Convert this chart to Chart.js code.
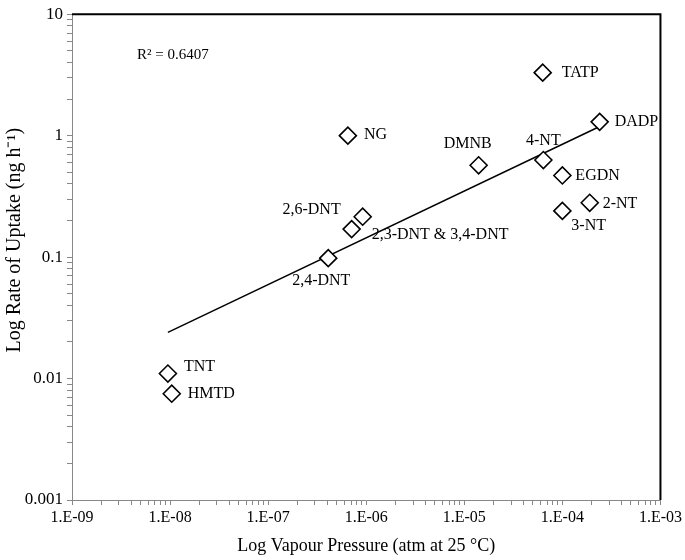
<!DOCTYPE html>
<html>
<head>
<meta charset="utf-8">
<script src="https://cdn.jsdelivr.net/npm/chart.js@4.4.0/dist/chart.umd.min.js"></script>
<style>
  html, body { margin: 0; padding: 0; background: #fff; }
  #wrap { width: 685px; height: 560px; }
</style>
</head>
<body>
<div id="wrap"><canvas id="chart" width="685" height="560"></canvas></div>
<script>
// compounds and values
const compounds = ['TNT', 'HMTD', 'NG', 'DMNB', 'TATP', 'DADP', '4-NT', 'EGDN', '2-NT', '3-NT', '2,6-DNT', '2,3-DNT & 3,4-DNT', '2,4-DNT'];
const vapourPressure = [9.5e-9, 1.04e-8, 6.5e-7, 1.4e-5, 6.3e-5, 2.4e-4, 6.4e-5, 1.0e-4, 1.9e-4, 1.0e-4, 9.2e-7, 7.1e-7, 4.1e-7];
const uptakeRate = [0.011, 0.0075, 1.0, 0.57, 3.3, 1.3, 0.63, 0.47, 0.28, 0.24, 0.215, 0.17, 0.098];

// trend line end points
const trendX = [9.5e-9, 2.4e-4];
const trendY = [0.024, 1.19];

const xTickValues = [1e-9, 1e-8, 1e-7, 1e-6, 1e-5, 1e-4, 1e-3];
const xTickLabels = ['1.E-09', '1.E-08', '1.E-07', '1.E-06', '1.E-05', '1.E-04', '1.E-03'];
const yTickValues = [0.001, 0.01, 0.1, 1, 10];
const yTickLabels = ['0.001', '0.01', '0.1', '1', '10'];

const yTitle = 'Log Rate of Uptake (ng h\u207b\u00b9)';

// label placement: [dx, dy, align]
const labelPos = [
    [16, -7, 'left'], [16, 0, 'left'], [16, -1, 'left'], [-11, -22, 'center'],
    [19, 0, 'left'], [15, 0, 'left'], [0, -19, 'center'], [13, 0, 'left'],
    [13, 1, 'left'], [9, 15, 'left'], [-22, -7, 'right'], [20, 6, 'left'],
    [-7, 23, 'center']
];

const serif = "'Liberation Serif', 'Times New Roman', serif";

function withMinor(majors) {
    const out = [];
    for (let i = 0; i < majors.length; i++) {
        out.push({ value: majors[i], major: true });
        if (i < majors.length - 1) {
            for (let k = 2; k <= 9; k++) out.push({ value: majors[i] * k, major: false });
        }
    }
    return out;
}

const pointLabels = {
    id: 'pointLabels',
    afterDatasetsDraw(chart) {
        const ctx = chart.ctx;
        const meta = chart.getDatasetMeta(0);
        ctx.save();
        ctx.font = '16px ' + serif;
        ctx.fillStyle = '#000';
        ctx.textBaseline = 'middle';
        meta.data.forEach((pt, i) => {
            const p = labelPos[i];
            ctx.textAlign = p[2];
            ctx.fillText(compounds[i], pt.x + p[0], pt.y + p[1]);
        });
        const area = chart.chartArea;
        ctx.font = '15px ' + serif;
        ctx.textAlign = 'left';
        ctx.fillText('R\u00b2 = 0.6407', area.left + 65, area.top + 41);

        // y axis title, sits a little above the plot centre like the original
        ctx.translate(15, area.top + 226);
        ctx.rotate(-Math.PI / 2);
        ctx.textAlign = 'center';
        ctx.font = '20px ' + serif;
        ctx.fillText(yTitle, 0, 0);
        ctx.restore();
    },
    beforeDatasetsDraw(chart) {
        const ctx = chart.ctx;
        const a = chart.chartArea;
        ctx.save();
        ctx.strokeStyle = '#000';
        ctx.lineWidth = 2;
        ctx.beginPath();
        ctx.moveTo(a.left, a.top);
        ctx.lineTo(a.right, a.top);
        ctx.lineTo(a.right, a.bottom);
        ctx.stroke();
        ctx.restore();
    }
};

new Chart(document.getElementById('chart'), {
    type: 'scatter',
    data: {
        datasets: [{
            data: vapourPressure.map((v, i) => ({ x: v, y: uptakeRate[i] })),
            pointStyle: 'rectRot',
            pointRadius: 8.5,
            pointHoverRadius: 8.5,
            borderColor: '#000',
            backgroundColor: '#fff',
            borderWidth: 1.6
        }, {
            type: 'line',
            data: trendX.map((v, i) => ({ x: v, y: trendY[i] })),
            borderColor: '#000',
            borderWidth: 1.5,
            pointRadius: 0,
            fill: false
        }]
    },
    options: {
        responsive: false,
        animation: false,
        layout: { padding: { top: 6, right: 24, left: 0, bottom: 0 } },
        plugins: { legend: { display: false }, tooltip: { enabled: false } },
        scales: {
            x: {
                type: 'logarithmic',
                min: 1e-9,
                max: 1e-3,
                afterBuildTicks: s => { s.ticks = withMinor(xTickValues); },
                afterFit: s => { s.height = 60; },
                border: { display: true, color: '#888', width: 1 },
                grid: { drawOnChartArea: false, drawTicks: true, tickLength: 5, color: '#888' },
                ticks: {
                    autoSkip: false,
                    maxRotation: 0,
                    padding: 3,
                    color: '#000',
                    font: { family: serif, size: 16 },
                    callback: v => {
                        const i = xTickValues.findIndex(t => Math.abs(Math.log10(t) - Math.log10(v)) < 1e-6);
                        return i >= 0 ? xTickLabels[i] : '';
                    }
                },
                title: {
                    display: true,
                    text: 'Log Vapour Pressure (atm at 25 \u00b0C)',
                    color: '#000',
                    font: { family: serif, size: 18 },
                    padding: { top: 0, bottom: 3 }
                }
            },
            y: {
                type: 'logarithmic',
                min: 0.001,
                max: 10,
                afterBuildTicks: s => { s.ticks = withMinor(yTickValues); },
                afterFit: s => { s.width = 72; },
                border: { display: true, color: '#888', width: 1 },
                grid: { drawOnChartArea: false, drawTicks: true, tickLength: 5, color: '#888' },
                ticks: {
                    autoSkip: false,
                    padding: 4,
                    color: '#000',
                    font: { family: serif, size: 17 },
                    callback: v => {
                        const i = yTickValues.findIndex(t => Math.abs(Math.log10(t) - Math.log10(v)) < 1e-6);
                        return i >= 0 ? yTickLabels[i] : '';
                    }
                },
                title: { display: false }
            }
        }
    },
    plugins: [pointLabels]
});
</script>
</body>
</html>
